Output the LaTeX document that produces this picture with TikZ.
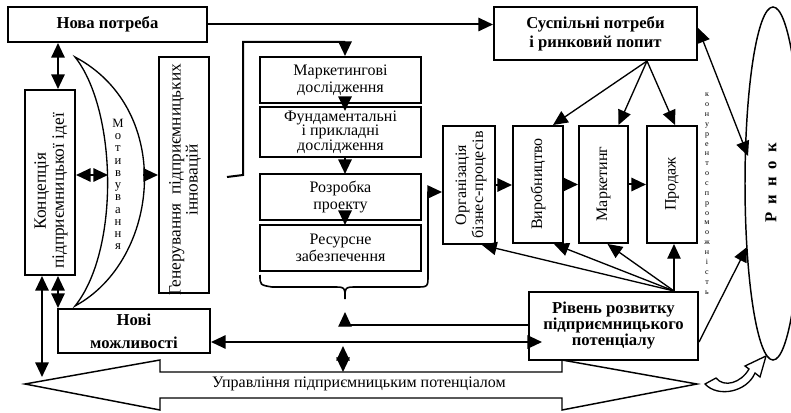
\documentclass[tikz,border=0pt]{standalone}
\usepackage{fontspec}
\setmainfont{Liberation Serif}
\usetikzlibrary{arrows.meta,calc}

\begin{document}
\begin{tikzpicture}[x=0.75pt,y=-0.75pt,
  box/.style={draw,line width=1.5pt,fill=white,inner sep=0pt,align=center},
  txt/.style={font=\fontsize{12}{12.75}\selectfont,align=center,inner sep=0pt},
  bold/.style={font=\fontsize{12.5}{12}\selectfont\bfseries},
  tip/.style={-{Triangle[length=11pt,width=10pt]}},
  dtip/.style={{Triangle[length=11pt,width=10pt]}-{Triangle[length=11pt,width=10pt]}},
  conn/.style={line width=1.5pt},
  thinconn/.style={line width=1pt},
  vtxt/.style={txt,rotate=90},
]
\useasboundingbox (0,0) rectangle (791,413);

% ---------- top row ----------
\node[box,bold,minimum width=149.25pt,minimum height=26.25pt] (nova) at (107.5,24.5) {Нова потреба};
\node[box,font=\fontsize{12.5}{14.5}\selectfont\bfseries,minimum width=152.25pt,minimum height=39.75pt] (sus) at (595.5,33.5) {Суспільні потреби\\і ринковий попит};

% ---------- left column ----------
\node[box,minimum width=37.5pt,minimum height=138.75pt] (konc) at (50,182.5) {};
\node[vtxt,font=\fontsize{13}{13.5}\selectfont] (konctxt) at (51,191) {Концепція\\підприємницької ідеї};

% motivation crescent
\draw[line width=1pt] (75,57) .. controls (175,110) and (160,260) .. (75,306)
      .. controls (120,250) and (117,110) .. (75,57) -- cycle;
\node[font=\fontsize{9.5}{9.2}\selectfont,align=center,inner sep=0pt] (motiv) at (118,184.5)
  {М\\о\\т\\и\\в\\у\\в\\а\\н\\н\\я};
\coordinate (motL) at (108,175);
\coordinate (motR) at (143,175);

\node[box,minimum width=37.5pt,minimum height=177pt] (gen) at (184,175) {};
\node[vtxt,font=\fontsize{13}{11.5}\selectfont] (gentxt) at (185,180) {Генерування\ \ підприємницьких\\інновацій};

\node[box,font=\fontsize{12.5}{17}\selectfont\bfseries,minimum width=114pt,minimum height=33pt] (nov) at (134,331) {Нові\\можливості};

% ---------- middle column ----------
\node[box,txt,minimum width=120.75pt,minimum height=34.5pt] (mark1) at (340.5,80) {Маркетингові\\дослідження};
\node[box,font=\fontsize{12}{11}\selectfont,minimum width=120.75pt,minimum height=37.5pt] (fund) at (340.5,132) {Фундаментальні\\і прикладні\\дослідження};
\node[box,txt,minimum width=120.75pt,minimum height=34.5pt] (rozr) at (340.5,197) {Розробка\\проекту};
\node[box,txt,minimum width=120.75pt,minimum height=34.5pt] (res) at (340.5,248) {Ресурсне\\забезпечення};

% ---------- business process row ----------
\node[box,minimum width=39pt,minimum height=88.5pt] (org) at (469,185) {};
\node[vtxt] (orgtxt) at (471,185) {Організація\\бізнес-процесів};
\node[box,minimum width=37.5pt,minimum height=87.75pt] (vyr) at (538,184.5) {};
\node[vtxt] (vyrtxt) at (538,184) {Виробництво};
\node[box,minimum width=36.75pt,minimum height=87.75pt] (mrk) at (603.5,184.5) {};
\node[vtxt] (mrktxt) at (603.5,184) {Маркетинг};
\node[box,minimum width=37.5pt,minimum height=87.75pt] (prod) at (672,184.5) {};
\node[vtxt] (prodtxt) at (672,184) {Продаж};

\node[box,font=\fontsize{12.5}{12}\selectfont\bfseries,minimum width=126.75pt,minimum height=51pt] (riv) at (613.5,326) {Рівень розвитку\\підприємницького\\потенціалу};

% ---------- market ----------
\draw[line width=1.1pt] (773,183.5) ellipse [x radius=28, y radius=176.5];
\coordinate (rynok) at (773,183.5);
\node[rotate=90,font=\fontsize{12.5}{12}\selectfont\bfseries,inner sep=0pt] (rynoktxt) at (771,183)
  {Р\hspace{6pt}и\hspace{6pt}н\hspace{6pt}о\hspace{6pt}к};
\node[font=\fontsize{6}{7.4}\selectfont,align=center,inner sep=0pt] (konk) at (707,193.5)
  {к\\о\\н\\у\\р\\е\\н\\т\\о\\с\\п\\р\\о\\м\\о\\ж\\н\\і\\с\\т\\ь};
\coordinate (rynokA) at (748,156);
\coordinate (rynokB) at (747,247);

% ---------- management arrow ----------
\draw[line width=1.1pt,fill=white] (25,384) -- (160,360) -- (160,372) -- (562,372) -- (562,360)
  -- (697,384) -- (562,410) -- (562,398) -- (160,398) -- (160,410) -- cycle;
\node[txt] (upr) at (359,384) {Управління підприємницьким потенціалом};
\coordinate (uprL) at (42,377);
\coordinate (uprT) at (343,372);
\coordinate (mid) at (343,342);

% curved arrow towards the market
\draw[line width=1pt,fill=white] (705,384) -- (716,378) .. controls (724,388) and (741,383) .. (749,369)
  -- (745,366) -- (766,356) -- (760,377) -- (755,373) .. controls (747,392) and (718,398) .. (705,384) -- cycle;

% ---------- connectors ----------
\draw[conn,tip] (nova.east) -- (sus.west |- nova.east);
\draw[conn,dtip] ($(nova.south)+(-49.5,0)$) -- ($(konc.north)+(8,0)$);
\draw[conn,dtip] ($(konc.east)+(0,-7.5)$) -- (motL);
\draw[conn,tip] (motR) -- (gen.west);
\draw[conn,dtip] ($(konc.south)+(-8,0)$) -- (uprL);
\draw[conn,dtip] ($(konc.south)+(8,0)$) -- ($(nov.north)+(-76,0)$);

% feed from innovation generation into the research chain
\coordinate (g1) at (227,177);
\coordinate (g2) at (243,175);
\coordinate (g3) at (243,42);
\draw[conn,tip] (g1) -- (g2) -- (g3) -| ($(mark1.north)+(4.5,0)$);

\draw[conn,tip] ($(mark1.south)+(4.5,-6)$) -- ($(fund.north)+(4.5,5)$);
\draw[conn,tip] ($(fund.south)+(4.5,0)$) -- ($(rozr.north)+(4.5,1)$);
\draw[conn,tip] ($(rozr.south)+(4.5,-8)$) -- ($(res.north)+(4.5,1)$);

% brace under the chain, leading to business processes
\draw[line width=1.2pt,tip] (260,275) .. controls (260,285) .. (272,287) -- (333,287)
  .. controls (345,287) .. (345,299) .. controls (345,287) .. (357,287) -- (416,287)
  .. controls (428,287) .. (428,275) -- (428,192) -- ($(org.west)+(0,7)$);

\draw[conn,tip] (org.east) -- (org.east -| vyr.west);
\draw[conn,tip] (vyr.east) -- (vyr.east -| mrk.west);
\draw[conn,tip] (mrk.east) -- (mrk.east -| prod.west);

% demand fan
\coordinate (susfan) at ($(sus.south)+(51.5,0)$);
\draw[thinconn,tip] (susfan) -- ($(vyr.north)+(15,0)$);
\draw[thinconn,tip] (susfan) -- ($(mrk.north)+(15,0)$);
\draw[thinconn,tip] (susfan) -- ($(prod.north)+(3,0)$);

% potential fan
\coordinate (rivfan) at ($(riv.north)+(60.5,0)$);
\draw[thinconn,tip] (rivfan) -- ($(org.south)+(13,0)$);
\draw[thinconn,tip] (rivfan) -- ($(vyr.south)+(16,0)$);
\draw[thinconn,tip] (rivfan) -- ($(mrk.south)+(4,0)$);
\draw[thinconn,tip] (rivfan) -- ($(prod.south)+(2,0)$);

\draw[thinconn,tip] ($(riv.west)+(0,-1)$) -| ($(res.south)+(4.5,40)$);
\draw[conn,dtip] ($(nov.east)+(0,11)$) -- ($(riv.west)+(14,16)$);
\draw[conn,dtip] ($(mid)+(0,4)$) -- (uprT);
\draw[thinconn,tip] ($(riv.east)+(0,16)$) -- (rynokB);
\draw[thinconn,dtip] ($(sus.east)+(0,-5.5)$) -- (rynokA);

\end{tikzpicture}
\end{document}
